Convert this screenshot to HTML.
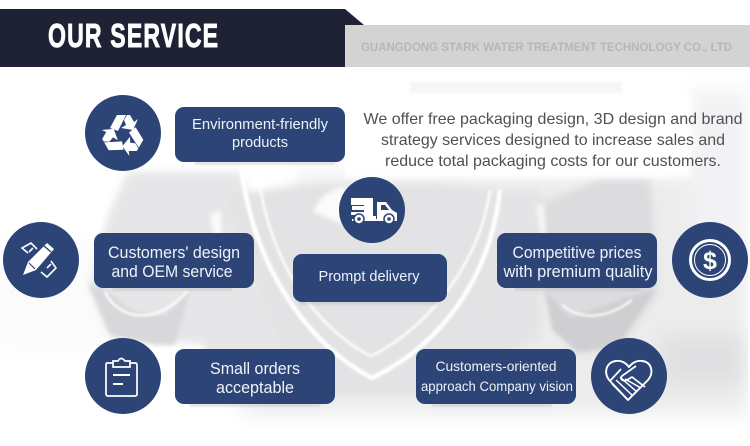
<!DOCTYPE html>
<html><head><meta charset="utf-8"><style>
html,body{margin:0;padding:0;background:#fff;width:750px;height:446px;overflow:hidden}
svg{display:block}
text{font-family:"Liberation Sans",sans-serif}
</style></head><body>
<svg width="750" height="446" viewBox="0 0 750 446" xmlns="http://www.w3.org/2000/svg">
<defs>
<filter id="b12" x="-30%" y="-30%" width="160%" height="160%"><feGaussianBlur stdDeviation="10"/></filter>
<filter id="b6" x="-30%" y="-30%" width="160%" height="160%"><feGaussianBlur stdDeviation="4"/></filter>
<filter id="b2" x="-30%" y="-30%" width="160%" height="160%"><feGaussianBlur stdDeviation="2"/></filter>
<filter id="b1" x="-30%" y="-30%" width="160%" height="160%"><feGaussianBlur stdDeviation="1"/></filter>
<filter id="b05" x="-10%" y="-10%" width="120%" height="120%"><feGaussianBlur stdDeviation="0.35"/></filter>
</defs>
<rect width="750" height="446" fill="#fff"/>
<!-- background -->
<g filter="url(#b12)">
<path d="M300 175H748V415H240Z" fill="#ececed"/>
<path d="M660 335H748V385H660Z" fill="#e0e0e2"/>
<path d="M690 90H748V240H690Z" fill="#f2f2f4"/>
<path d="M0 240H120V350H0Z" fill="#fbfbfb"/>
</g>
<g filter="url(#b6)">
<path d="M128 172L240 172L300 330L335 395H192L205 345L110 335L90 285L108 215Z" fill="#e6e6e8"/>
<path d="M225 195L300 185L440 185L500 190L530 340L450 395H300Z" fill="#e3e3e5"/>
<path d="M537 205L600 180L650 180L658 293L618 350L578 353L545 295Z" fill="#dcdcdf"/>
<path d="M500 190H540V340L480 350L500 260Z" fill="#e4e4e6"/>
</g>
<g filter="url(#b2)">
<path d="M88 283L105 290L135 312L165 315L190 290L175 345L155 345L110 335Z" fill="#d8d8db"/>
<path d="M545 290L570 318L620 300L655 290L618 345L578 352L552 330Z" fill="#cfcfd2"/>
<path d="M313 212C318 200 325 192 345 186L345 225Z" fill="#fbfbfc"/>
<path d="M210 216L220 210L222 235L214 235Z" fill="#fbfbfc"/>
<path d="M536 205L544 204L546 235L540 235Z" fill="#f6f6f7"/>
</g>
<g filter="url(#b1)" fill="none" stroke="#fff">
<path d="M242 165C246 235 290 335 372 378C440 345 490 280 500 190" stroke-width="4.5"/>
<path d="M258 165C262 235 300 320 371 356C425 330 480 265 490 190" stroke-width="2.6" opacity=".9"/>
<path d="M105 292C120 322 160 325 188 290" stroke-width="2.6" opacity=".85"/>
<path d="M562 305C580 320 605 320 632 300" stroke-width="2.4" opacity=".85"/>
</g>
<rect x="345" y="94" width="345" height="83" fill="#fff" filter="url(#b2)"/>
<rect x="410" y="82" width="212" height="11" fill="#f6f6f7" filter="url(#b1)"/>
<rect x="748" y="80" width="2" height="366" fill="#fff"/>

<!-- header -->
<rect x="0" y="9" width="345" height="58" fill="#1f2235"/>
<path d="M345 9L364 25H345Z" fill="#1f2235"/>
<rect x="345" y="25" width="405" height="42" fill="#d3d3d3"/>
<g transform="translate(48 47) scale(.7 1)">
<text x="0" y="0" font-size="33" font-weight="bold" fill="#fff" stroke="#fff" stroke-width=".9" textLength="243">OUR SERVICE</text>
</g>
<text x="361" y="51" font-size="11.5" font-weight="bold" fill="#b7b7b9" textLength="371" lengthAdjust="spacingAndGlyphs">GUANGDONG STARK WATER TREATMENT TECHNOLOGY CO., LTD</text>

<!-- paragraph -->
<g font-size="16" fill="#505052" text-anchor="middle">
<text x="553" y="124" textLength="379" lengthAdjust="spacingAndGlyphs">We offer free packaging design, 3D design and brand</text>
<text x="553" y="145" textLength="344" lengthAdjust="spacingAndGlyphs">strategy services designed to increase sales and</text>
<text x="553" y="166" textLength="336" lengthAdjust="spacingAndGlyphs">reduce total packaging costs for our customers.</text>
</g>

<!-- box shadows -->
<g fill="#a5a5a9" opacity=".4" filter="url(#b1)">
<rect x="195" y="162" width="140" height="2.5"/>
<rect x="112" y="288" width="120" height="2.5"/>
<rect x="300" y="302" width="140" height="2.5"/>
<rect x="515" y="288" width="125" height="2.5"/>
<rect x="190" y="404" width="130" height="2.5"/>
<rect x="432" y="404" width="120" height="2.5"/>
</g>

<!-- boxes -->
<g fill="#2c4476">
<rect x="175" y="107" width="170" height="55" rx="9"/>
<rect x="94" y="233" width="160" height="55" rx="9"/>
<rect x="293" y="254" width="154" height="48" rx="9"/>
<rect x="497" y="233" width="160" height="55" rx="9"/>
<rect x="175" y="349" width="160" height="55" rx="9"/>
<rect x="416" y="349" width="160" height="55" rx="9"/>
<circle cx="123" cy="133" r="38"/>
<circle cx="41" cy="260" r="38"/>
<circle cx="123" cy="376" r="38"/>
<circle cx="372" cy="210" r="33"/>
<circle cx="710" cy="260" r="38"/>
<circle cx="629" cy="376" r="38"/>
</g>

<!-- labels -->
<g fill="#eef3f9" text-anchor="middle">
<text x="260" y="129" font-size="14.5" textLength="136" lengthAdjust="spacingAndGlyphs">Environment-friendly</text>
<text x="260" y="147" font-size="14.5" textLength="56" lengthAdjust="spacingAndGlyphs">products</text>
<text x="174" y="258" font-size="16.5" textLength="132" lengthAdjust="spacingAndGlyphs">Customers' design</text>
<text x="172" y="277" font-size="16.5" textLength="121" lengthAdjust="spacingAndGlyphs">and OEM service</text>
<text x="369" y="281" font-size="14.5" textLength="101" lengthAdjust="spacingAndGlyphs">Prompt delivery</text>
<text x="577" y="258" font-size="16.5" textLength="129" lengthAdjust="spacingAndGlyphs">Competitive prices</text>
<text x="578" y="277" font-size="16.5" textLength="149" lengthAdjust="spacingAndGlyphs">with premium quality</text>
<text x="255" y="374" font-size="16.5" textLength="90" lengthAdjust="spacingAndGlyphs">Small orders</text>
<text x="255" y="393" font-size="16.5" textLength="78" lengthAdjust="spacingAndGlyphs">acceptable</text>
<text x="496" y="371" font-size="14" textLength="121" lengthAdjust="spacingAndGlyphs">Customers-oriented</text>
<text x="497" y="391" font-size="13.5" textLength="152" lengthAdjust="spacingAndGlyphs">approach Company vision</text>
</g>

<!-- recycle icon -->
<g fill="#fff" filter="url(#b05)" transform="translate(123 135)">
<g><path d="M-13,-7L-6,-20H3L-5,-4Z"/><path d="M1,-15L4,-20H7L11,-13L15,-16L10,-5L-2,-7L3,-10Z"/></g>
<g transform="rotate(120)"><path d="M-13,-7L-6,-20H3L-5,-4Z"/><path d="M1,-15L4,-20H7L11,-13L15,-16L10,-5L-2,-7L3,-10Z"/></g>
<g transform="rotate(240)"><path d="M-13,-7L-6,-20H3L-5,-4Z"/><path d="M1,-15L4,-20H7L11,-13L15,-16L10,-5L-2,-7L3,-10Z"/></g>
</g>

<!-- pencil/ruler icon -->
<g filter="url(#b05)">
<path d="M28 253L22 248L31 243L37 249M33 248L29 252" fill="none" stroke="#fff" stroke-width="1.6"/>
<path d="M51 261L56 268L47 277L41 272M47 268L51 264" fill="none" stroke="#fff" stroke-width="1.6"/>
<path d="M23 275L28 262L47 243L54 249L36 270Z" fill="#fff"/>
<path d="M44 246L51 252" stroke="#2c4476" stroke-width="1.4"/>
<path d="M29 263L35 269" stroke="#2c4476" stroke-width="1.2"/>
</g>

<!-- clipboard icon -->
<g fill="none" stroke="#fff" stroke-width="1.7" filter="url(#b05)">
<path d="M113 363H107Q106 363 106 365V394Q106 396 108 396H135Q137 396 137 394V365Q137 363 135 363H130"/>
<path d="M113 367V361H118Q121 356 125 361H130V367Z"/>
<path d="M113 375H130M113 384H123" stroke-width="2"/>
</g>

<!-- truck icon -->
<g filter="url(#b05)">
<path d="M351 198H373V216H376V220H352V219H357V215H351V212H364V205H351Z" fill="#fff"/>
<path d="M352 206H365V203L372 208L365 213V210H352Z" fill="#fff"/>
<path d="M377 202H386L392 210L397 213V220H377Z" fill="#fff"/>
<path d="M381 205H385L389 210H381Z" fill="#2c4476"/>
<rect x="352" y="219" width="45" height="2" fill="#fff"/>
<circle cx="359" cy="219" r="5" fill="#fff" stroke="#2c4476" stroke-width="1.5"/>
<circle cx="359" cy="219" r="1.8" fill="#2c4476"/>
<circle cx="389" cy="219" r="5" fill="#fff" stroke="#2c4476" stroke-width="1.5"/>
<circle cx="389" cy="219" r="1.8" fill="#2c4476"/>
</g>

<!-- dollar icon -->
<g filter="url(#b05)">
<circle cx="710" cy="260" r="19.5" fill="none" stroke="#fff" stroke-width="3"/>
<circle cx="710" cy="260" r="15.5" fill="none" stroke="#fff" stroke-width="1"/>
<text x="710" y="269" font-size="25" font-weight="bold" fill="#fff" text-anchor="middle">$</text>
</g>

<!-- handshake heart icon -->
<g fill="none" stroke="#fff" stroke-width="1.7" stroke-linejoin="round" filter="url(#b05)">
<path d="M628 400L610 381C603 373 606 362 616 361C621 360 626 363 629 367C632 363 637 360 642 361C652 362 654 373 648 380L628 400Z" stroke-width="1.9"/>
<path d="M636 366L622 376C619 379 623 382 627 380L632 377L645 387"/>
<path d="M610 381L621 369"/>
<path d="M612 384L628 400M616 380L633 396M620 377L637 392M625 379L641 388" stroke-width="1.5"/>
</g>
</svg>
</body></html>
